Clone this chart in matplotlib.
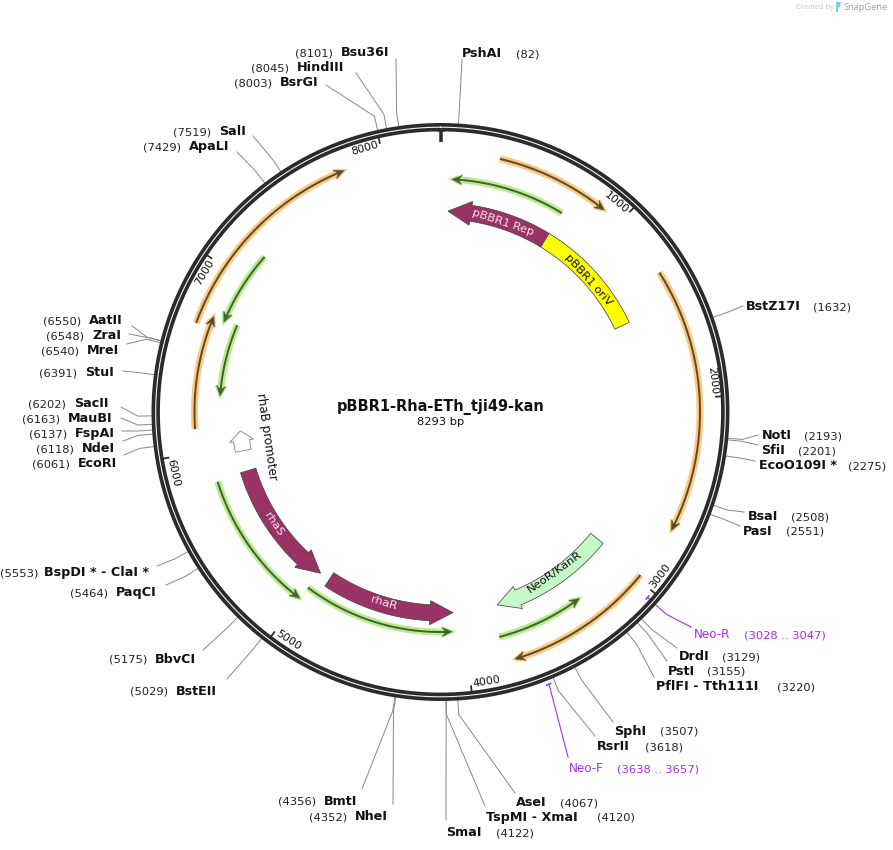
import numpy as np
import matplotlib
matplotlib.use('Agg')
import matplotlib.pyplot as plt

# plasmid
plasmid_name = 'pBBR1-Rha-ETh_tji49-kan'
plasmid_size = 8293
tick_sites = [1000, 2000, 3000, 4000, 5000, 6000, 7000, 8000]

# restriction sites
enzyme_names = ['PshAI', 'BstZ17I', 'NotI', 'SfiI', 'EcoO109I *', 'BsaI', 'PasI', 'DrdI', 'PstI',
                'PflFI - Tth111I', 'SphI', 'RsrII', 'AseI', 'TspMI - XmaI', 'SmaI', 'NheI', 'BmtI',
                'BstEII', 'BbvCI', 'PaqCI', 'BspDI * - ClaI *', 'EcoRI', 'NdeI', 'FspAI', 'MauBI',
                'SacII', 'StuI', 'MreI', 'ZraI', 'AatII', 'ApaLI', 'SalI', 'BsrGI', 'HindIII', 'Bsu36I']
enzyme_sites = [82, 1632, 2193, 2201, 2275, 2508, 2551, 3129, 3155,
                3220, 3507, 3618, 4067, 4120, 4122, 4352, 4356,
                5029, 5175, 5464, 5553, 6061, 6118, 6137, 6163,
                6202, 6391, 6540, 6548, 6550, 7429, 7519, 8003, 8045, 8101]

# label layout in pixels, same order as enzyme_names: name x, number x, text middle y, leader end
label_name_x = [462, 746, 762, 761, 759, 748, 743, 679, 668,
                656, 614, 597, 516, 486, 446, 355, 324,
                176, 155, 116, 44, 78, 82, 75, 68,
                74, 85, 87, 92, 89, 189, 219, 280, 297, 341]
label_num_x = [516, 813, 804, 798, 848, 791, 786, 722, 707,
               777, 660, 645, 560, 597, 496, 309, 278,
               130, 109, 70, 0, 32, 36, 29, 22,
               28, 39, 41, 46, 43, 143, 173, 234, 251, 295]
label_y = [53, 306, 435, 450, 465, 516, 531, 656, 671,
           686, 731, 746, 802, 817, 832, 816, 801,
           691, 659, 592, 572, 463, 448, 433, 418,
           403, 372, 350, 335, 320, 146, 131, 82, 67, 52]
lead_x = [462, 743, 758, 758, 755, 744, 740, 677, 667,
          654, 613, 595, 515, 485, 446, 393, 362,
          227, 203, 166, 157, 124, 123, 122, 121,
          121, 123, 127, 129, 132, 237, 253, 326, 356, 396]
lead_y = [60, 306, 435, 445, 461, 512, 526, 648, 661,
          677, 722, 736, 793, 806, 820, 804, 789,
          679, 650, 585, 566, 455, 441, 431, 418,
          407, 371, 344, 334, 326, 152, 136, 85, 73, 59]

# primers
primer_names = ['Neo-R', 'Neo-F']
primer_ranges = [(3028, 3047), (3638, 3657)]
primer_radius = [278, 293]
primer_label_x = [694, 569]
primer_num_x = [744, 617]
primer_label_y = [634, 768]
primer_lead_x = [691, 568]
primer_lead_y = [627, 757]

# thin features, given in the direction of the arrow
orange_arcs = [(304, 900), (1325, 2700), (2976, 3760), (6128, 6747), (6681, 7791)]
orange_radius = [260, 259.5, 258, 246, 260]
green_arcs = [(723, 65), (7174, 6738), (6752, 6316), (5819, 5000), (5000, 4077), (3810, 3301)]
green_radius = [233, 234.5, 221, 233.5, 220, 232.5]

# filled features, start -> tip
block_names = ['pBBR1 Rep', 'pBBR1 oriV', 'NeoR/KanR', 'rhaS', 'rhaR', 'rhaB promoter']
block_spans = [(721, 49), (721, 1488), (2970, 3769), (5830, 4990), (4920, 4064), (5964, 6096)]
block_colors = ['#993366', '#ffff00', '#c6f7c6', '#993366', '#993366', '#ffffff']
block_text_colors = ['#f7e3ee', '#111111', '#111111', '#f7e3ee', '#f7e3ee', '#111111']
block_heads = [23, 0, 22, 23, 23, 10]
block_label_sites = [424, 1110, 3327, 5441, 4529, 6033]
block_label_radius = [199.5, 198, 197, 201, 199.7, 175.5]

PT = 0.72  # one pixel in points at dpi 100
cx, cy = 440.5, 412.0
FONT = 'DejaVu Sans'


def polar(bp, r):
    t = 2 * np.pi * np.asarray(bp, dtype=float) / plasmid_size
    return cx + r * np.sin(t), cy - r * np.cos(t)


def to_bp(px, r):
    return px / r * plasmid_size / (2 * np.pi)


def text_rot(bp):
    ang = bp / plasmid_size * 360
    if 90 < ang < 270:
        return 180 - ang
    return -ang


def thin_arrow(span, r, halo, dark):
    a, b = span
    d = 1 if b > a else -1
    hl = to_bp(10, r)
    bps = np.linspace(a, b - d * hl * 0.6, 120)
    x, y = polar(bps, r)
    head_bp = [b, b - d * hl, b - d * hl * 0.65, b - d * hl]
    head_r = [r, r + 4.5, r, r - 4.5]
    hx, hy = polar(head_bp, np.array(head_r))
    ax.plot(x, y, color=halo, lw=7 * PT, solid_capstyle='butt', zorder=2)
    ax.fill(hx, hy, facecolor=halo, edgecolor=halo, lw=3.2 * PT, zorder=2)
    ax.plot(x, y, color=dark, lw=2.0 * PT, solid_capstyle='butt', zorder=3)
    ax.fill(hx, hy, facecolor=dark, edgecolor=dark, lw=0.3, zorder=3)


def block_arrow(span, head, color, edge):
    a, b = span
    r, hw, wing = 201, 8, 12
    d = 1 if b > a else -1
    base = b - d * to_bp(head, r)
    body = np.linspace(a, base, 100)
    ox, oy = polar(body, r + hw)
    ix, iy = polar(body[::-1], r - hw)
    if head > 0:
        wx, wy = polar([base, b, base], np.array([r + wing, r, r - wing]))
    else:
        wx, wy = [], []
    px = np.concatenate([ox, wx, ix])
    py = np.concatenate([oy, wy, iy])
    ax.fill(px, py, facecolor=color, edgecolor=edge, lw=0.75 * PT, zorder=4)


fig = plt.figure(figsize=(8.93, 8.5), dpi=100)
ax = fig.add_axes([0, 0, 1, 1])
ax.set_xlim(0, 893)
ax.set_ylim(850, 0)
ax.axis('off')

# leaders go under the ring
for i, site in enumerate(enzyme_sites):
    x0, y0 = polar(site, 288)
    x1, y1 = polar(site, 303)
    ax.plot([x0, x1, lead_x[i]], [y0, y1, lead_y[i]], color='#8a8a8a', lw=1.0 * PT, zorder=1)

for i, name in enumerate(primer_names):
    lo, hi = primer_ranges[i]
    r = primer_radius[i]
    mid = (lo + hi) / 2
    x, y = polar(np.linspace(lo, hi, 8), r)
    ax.plot(x, y, color='#a52cf0', lw=1.6 * PT, zorder=1)
    x1, y1 = polar(mid, 303 if r < 285 else r + 3)
    x0, y0 = polar(mid, r)
    ax.plot([x0, x1, primer_lead_x[i]], [y0, y1, primer_lead_y[i]], color='#a52cf0', lw=1.1 * PT, zorder=1)
    ax.text(primer_label_x[i], primer_label_y[i] + 4, name, color='#a52cf0', fontsize=12 * PT,
            family=FONT, va='baseline')
    ax.text(primer_num_x[i], primer_label_y[i] + 4, f'({lo} .. {hi})', color='#a52cf0', fontsize=11.5 * PT,
            family=FONT, va='baseline')

# backbone
ring = np.linspace(0, plasmid_size, 720)
rx, ry = polar(ring, 284.8)
ax.plot(rx, ry, color='#2b2b2b', lw=8.4 * PT, zorder=5)
ax.plot(rx, ry, color='#f2f2f2', lw=1.1 * PT, zorder=6)

x, y = polar([0, 0], np.array([281.5, 270]))
ax.plot(x, y, color='#2b2b2b', lw=3.5 * PT, solid_capstyle='butt', zorder=6)
for t in tick_sites:
    x, y = polar([t, t], np.array([282, 275]))
    ax.plot(x, y, color='#2b2b2b', lw=1.8 * PT, solid_capstyle='butt', zorder=6)
    mid = t - to_bp(16, 274)
    x, y = polar(mid, 274)
    ax.text(x, y, str(t), fontsize=11 * PT, family=FONT, color='#111111', rotation=text_rot(mid),
            rotation_mode='anchor', ha='center', va='center', zorder=6)

for span, r in zip(orange_arcs, orange_radius):
    thin_arrow(span, r, '#fcc97e', '#5b4c31')
for span, r in zip(green_arcs, green_radius):
    thin_arrow(span, r, '#b8ef8c', '#48603a')

for i, name in enumerate(block_names):
    edge = '#777777' if name == 'rhaB promoter' else '#444444'
    block_arrow(block_spans[i], block_heads[i], block_colors[i], edge)
    x, y = polar(block_label_sites[i], block_label_radius[i])
    size = 12 if name == 'rhaB promoter' else 11.5
    ax.text(x, y, name, fontsize=size * PT, family=FONT, color=block_text_colors[i],
            rotation=text_rot(block_label_sites[i]), rotation_mode='anchor', ha='center', va='center', zorder=7)

# site labels
for i, name in enumerate(enzyme_names):
    base = label_y[i] + 4
    ax.text(label_name_x[i], base, name, fontsize=12.8 * PT, fontweight='bold', family=FONT,
            color='#111111', va='baseline', zorder=8)
    ax.text(label_num_x[i], base, f'({enzyme_sites[i]})', fontsize=11.5 * PT, family=FONT,
            color='#222222', va='baseline', zorder=8)

# centre title
ax.text(cx, 407, plasmid_name, fontsize=14.5 * PT, fontweight='bold', family=FONT,
        ha='center', va='center', color='#111111')
ax.text(cx, 422, f'{plasmid_size} bp', fontsize=11.5 * PT, family=FONT, ha='center', va='center', color='#111111')

# watermark
ax.text(796, 7, 'Created by', fontsize=7.5 * PT, family='Open Sans', color='#c4c4c4', va='center')
ax.fill([836, 841, 840, 838, 838, 836], [2, 2, 7, 8, 12, 12], color='#7fd0f0', lw=0)
ax.text(844, 7, 'SnapGene', fontsize=9.3 * PT, family='Open Sans', color='#a3a3a3', va='center')

fig.savefig('out.png', dpi=100)
